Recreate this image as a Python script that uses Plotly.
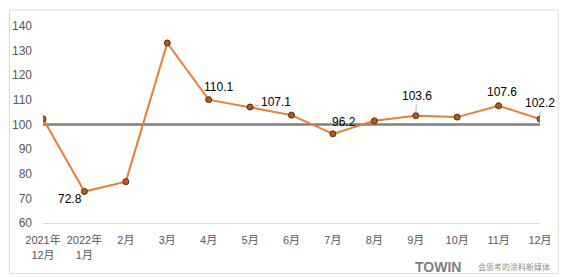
import plotly.graph_objects as go

categories = ["2021年<br>12月", "2022年<br>1月", "2月", "3月", "4月", "5月", "6月",
              "7月", "8月", "9月", "10月", "11月", "12月"]
values = [102.3, 72.8, 76.8, 133.1, 110.1, 107.1, 103.8, 96.2, 101.5, 103.6, 103.0, 107.6, 102.2]
baseline = 100
y_ticks = [60, 70, 80, 90, 100, 110, 120, 130, 140]

# which points carry a data label, and their pixel offsets (dx, dy; dy down) + leader flag
label_style = {
    1: (-14, 8, False),
    4: (10, -13, False),
    5: (26, -5, True),
    7: (11, -12, False),
    9: (1, -20, True),
    11: (3, -14, False),
    12: (0, -16, True),
}

fig = go.Figure()
fig.add_trace(go.Scatter(
    x=categories, y=values, mode="lines+markers",
    line=dict(color="#ED7D31", width=2),
    marker=dict(size=6, color="#B85A1A", line=dict(color="#5A2A0A", width=1)),
    hoverinfo="skip", showlegend=False,
))

annotations = []
for i, (dx, dy, leader) in label_style.items():
    txt = f"{values[i]:.1f}"
    if leader:
        annotations.append(dict(
            x=categories[i], y=values[i], text=txt, showarrow=True,
            ax=dx, ay=dy, arrowhead=0, arrowwidth=0.8, arrowcolor="#A6A6A6",
            standoff=3, font=dict(family="Liberation Sans", size=12, color="#000000"),
        ))
    else:
        annotations.append(dict(
            x=categories[i], y=values[i], text=txt, showarrow=False,
            xshift=dx, yshift=-dy,
            font=dict(family="Liberation Sans", size=12, color="#000000"),
        ))

# watermark text (bottom right)
annotations += [
    dict(xref="paper", yref="paper", x=0.795, y=-0.222, text="<b>TOWIN</b>", showarrow=False,
         font=dict(family="Liberation Sans", size=14, color="#808080"),
         xanchor="center", yanchor="middle"),
    dict(xref="paper", yref="paper", x=1.025, y=-0.222, text="会思考的涂料新媒体", showarrow=False,
         font=dict(family="Noto Sans CJK SC", size=8, color="#909090"),
         xanchor="right", yanchor="middle"),
]

shapes = [
    dict(type="line", xref="x", yref="y", x0=0, x1=len(categories) - 1,
         y0=baseline, y1=baseline, line=dict(color="#7F7F7F", width=2.5), layer="below"),
    dict(type="rect", xref="paper", yref="paper", x0=-0.0674, x1=1.0366, y0=-0.257, y1=1.081,
         line=dict(color="#D9D9D9", width=1), layer="below"),
]

fig.update_layout(
    width=564, height=277,
    margin=dict(l=40.7, r=23.3, t=26, b=53.7),
    paper_bgcolor="white", plot_bgcolor="white",
    annotations=annotations, shapes=shapes,
    font=dict(family="Liberation Sans, Noto Sans CJK SC", size=11, color="#595959"),
)
fig.update_xaxes(
    type="category", range=[0, len(categories) - 1],
    showgrid=False, zeroline=False, showline=True, linecolor="#D9D9D9", linewidth=1,
    ticks="", tickfont=dict(family="Liberation Sans, Noto Sans CJK SC", size=11, color="#595959"),
    ticklabelstandoff=7,
)
fig.update_yaxes(
    range=[60, 140], tickvals=y_ticks, showgrid=False, zeroline=False, showline=False,
    ticks="", tickfont=dict(family="Liberation Sans", size=12, color="#595959"),
    ticklabelstandoff=10,
)

fig.write_html("out.html")
